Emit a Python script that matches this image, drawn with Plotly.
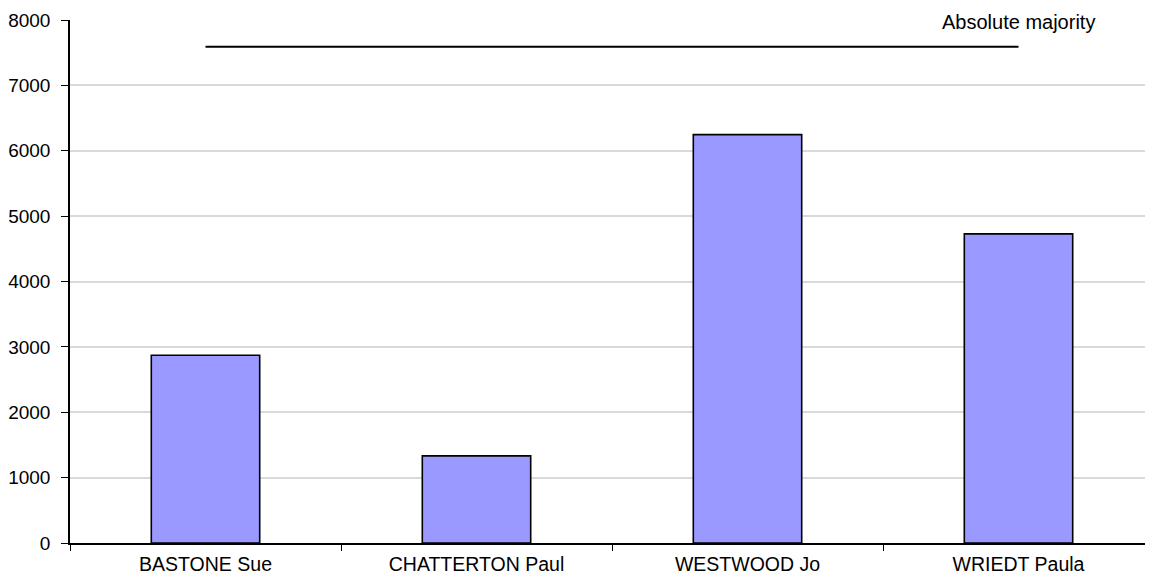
import plotly.graph_objects as go

candidates = ["BASTONE Sue", "CHATTERTON Paul", "WESTWOOD Jo", "WRIEDT Paula"]
votes = [2872, 1332, 6246, 4728]
majority = 7589
majority_label = "Absolute majority"
y_ticks = [0, 1000, 2000, 3000, 4000, 5000, 6000, 7000, 8000]

font_family = "Liberation Sans, Arial, sans-serif"

fig = go.Figure()
fig.add_trace(go.Bar(
    x=candidates, y=votes, width=0.4,
    marker=dict(color="#9999FF", line=dict(color="black", width=1.6)),
    showlegend=False, hoverinfo="x+y",
))
fig.add_trace(go.Scatter(
    x=candidates, y=[majority] * len(candidates), mode="lines",
    line=dict(color="black", width=2), showlegend=False,
))
fig.add_annotation(
    x=candidates[-1], y=majority, text=majority_label, showarrow=False,
    yshift=25, font=dict(size=20, color="black", family=font_family),
)
fig.update_layout(
    width=1153, height=574,
    margin=dict(l=62, r=7, t=12, b=39),
    paper_bgcolor="white", plot_bgcolor="white",
    font=dict(family=font_family, size=19, color="black"),
    bargap=0.6,
)
fig.update_xaxes(
    range=[-0.5, 3.5], showline=True, linecolor="black", linewidth=1.5,
    ticks="outside", tickson="boundaries", ticklen=6, tickcolor="black",
    showgrid=False, tickfont=dict(size=19.5), automargin=False,
    ticklabelstandoff=3,
)
fig.update_yaxes(
    range=[0, 8000], tickvals=y_ticks, showline=True, linecolor="black",
    linewidth=1.5, ticks="outside", ticklen=7, tickcolor="black",
    showgrid=True, gridcolor="#D9D9D9", gridwidth=1.5, zeroline=False,
    tickfont=dict(size=19), ticklabelstandoff=7, automargin=False,
)
fig.write_html("out.html")
